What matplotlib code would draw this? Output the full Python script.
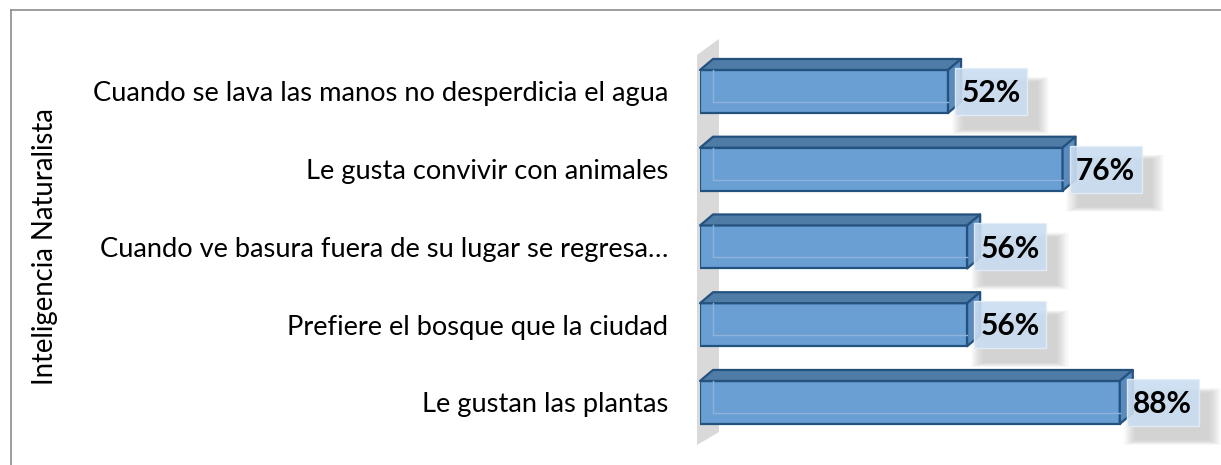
import matplotlib.pyplot as plt
from matplotlib.patches import Polygon, Rectangle
from matplotlib.lines import Line2D

categories = ["Cuando se lava las manos no desperdicia el agua",
              "Le gusta convivir con animales",
              "Cuando ve basura fuera de su lugar se regresa…",
              "Prefiere el bosque que la ciudad",
              "Le gustan las plantas"]
values = [52, 76, 56, 56, 88]
axis_title = "Inteligencia Naturalista"

plt.rcParams['font.family'] = ['Lato', 'DejaVu Sans']

W, H = 1221, 465
fig = plt.figure(figsize=(W / 100, H / 100), dpi=100)


def fx(px):
    return px / W


def fy(py):
    return 1 - py / H


# axes: 0% at x=700px, 100% at x=1177px
ax = fig.add_axes([fx(700), fy(445), fx(1177) - fx(700), fy(40) - fy(445)])
ax.set_xlim(0, 100)
ax.set_ylim(4.547, -0.662)
for s in ax.spines.values():
    s.set_visible(False)
ax.set_xticks([])

pos = list(range(len(categories)))
h = 0.553          # bar thickness
dx, dy = 2.73, 0.1415   # 3d depth offset

front = "#6A9FD4"
top_c = "#4F7BA7"
side_c = "#5A8BBE"
edge = "#24527F"

# back wall
wall = Polygon([(-0.63, 4.547), (-0.63, -0.469), (3.98, -0.675), (3.98, 4.38)],
               closed=True, facecolor="#D9D9D9", edgecolor="none", zorder=1,
               clip_on=False)
ax.add_patch(wall)

ax.barh(pos, values, height=h, color=front, edgecolor=edge, linewidth=1.6, zorder=3)

for y, v in zip(pos, values):
    t = y - h / 2
    b = y + h / 2
    ax.add_patch(Polygon([(0, t), (v, t), (v + dx, t - dy), (dx, t - dy)],
                         facecolor=top_c, edgecolor=edge, linewidth=1.6, zorder=3,
                         joinstyle="round", clip_on=False))
    ax.add_patch(Polygon([(v, t), (v + dx, t - dy), (v + dx, b - dy), (v, b)],
                         facecolor=side_c, edgecolor=edge, linewidth=1.6, zorder=3,
                         joinstyle="round", clip_on=False))
    # hidden back edges seen through the bar
    ax.plot([dx, v], [b - dy, b - dy], color="#8DB3DB", lw=1.0, zorder=4)
    ax.plot([dx, dx], [t, b - dy], color="#8DB3DB", lw=1.0, zorder=4)

    # data label box with soft shadow
    bx = v + 1.47
    bw, bh = 15.1, 0.605
    n = 12
    for k in range(n):
        grow = (n - k) * 0.45
        ax.add_patch(Rectangle((bx + 2.0 - grow * 0.5, y - bh / 2 + 0.18 - grow * 0.012),
                               bw + grow, bh + grow * 0.024,
                               facecolor="#808080", alpha=0.03, edgecolor="none",
                               zorder=5, clip_on=False))
    ax.add_patch(Rectangle((bx, y - bh / 2), bw, bh, facecolor="#C9DDF0",
                           alpha=0.9, edgecolor="#E4EEF8", linewidth=1.0,
                           zorder=6, clip_on=False))
    ax.text(bx + bw / 2, y + 0.02, f"{v}%", ha="center", va="center",
            fontsize=21.5, fontweight="bold", color="black", zorder=7)

ax.set_yticks(pos, categories)
ax.tick_params(axis="y", length=0, pad=23, labelsize=19.6)
ax.set_ylabel(axis_title, fontsize=19.8)
ax.yaxis.set_label_coords((58 - 700) / 477, 0.49)

# chart border (left and top edges visible)
fig.add_artist(Line2D([fx(10.5), fx(10.5)], [fy(10.5), 0], color="#8C8C8C", lw=1.2))
fig.add_artist(Line2D([fx(10.5), 1], [fy(10.5), fy(10.5)], color="#8C8C8C", lw=1.2))

fig.savefig("out.png", dpi=100)
